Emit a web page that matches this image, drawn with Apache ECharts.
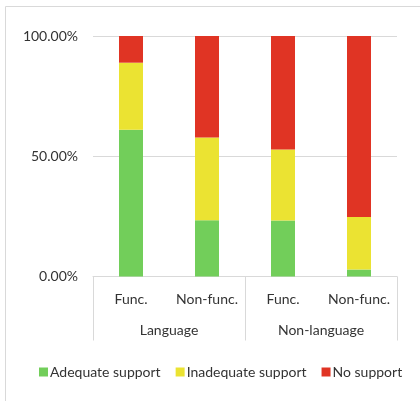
<!DOCTYPE html>
<html>
<head>
<meta charset="utf-8">
<script src="https://cdn.jsdelivr.net/npm/echarts@6/dist/echarts.min.js"></script>
<style>html,body{margin:0;padding:0;background:#fff;}#c{width:420px;height:401px;}</style>
</head>
<body>
<div id="c"></div>
<script>
const subCategories = ['Func.', 'Non-func.', 'Func.', 'Non-func.'];
const groupCategories = ['Language', 'Non-language'];
const seriesNames = ['Adequate support', 'Inadequate support', 'No support'];
const adequate = [0.61, 0.234, 0.233, 0.029];
const inadequate = [0.279, 0.344, 0.295, 0.218];
const noSupport = [0.111, 0.422, 0.472, 0.753];
const yTicks = [0, 0.5, 1];

const font = 'Lato, "Noto Sans", sans-serif';
const txt = '#333';
const gridC = '#d9d9d9';
const colors = ['#72CE5A', '#EBE332', '#E03424'];

const chart = echarts.init(document.getElementById('c'));
const mk = (name, data, i) => ({
  name, type: 'bar', stack: 'total', data, barWidth: 24,
  itemStyle: { color: colors[i] }, xAxisIndex: 0, yAxisIndex: 0
});
chart.setOption({
  animation: false,
  textStyle: { fontFamily: font },
  graphic: [{
    type: 'rect', silent: true,
    shape: { x: 5.5, y: 6.5, width: 600, height: 600 },
    style: { fill: 'none', stroke: gridC, lineWidth: 1 }
  }],
  grid: { left: 93, right: 23, top: 36, bottom: 124.5 },
  legend: {
    data: seriesNames, left: 34, top: 360, itemWidth: 9, itemHeight: 9, itemGap: 15,
    icon: 'rect',
    textStyle: { fontFamily: font, fontSize: 14, color: txt, padding: [0, 0, 0, -3] }
  },
  xAxis: [{
    type: 'category', data: subCategories, position: 'bottom',
    axisLine: { lineStyle: { color: gridC, width: 1 } },
    axisTick: { show: false },
    axisLabel: { interval: 0, margin: 16, fontSize: 14, color: txt, fontFamily: font }
  }, {
    type: 'category', data: groupCategories, position: 'bottom',
    axisLine: { show: false },
    axisTick: { show: true, length: 64, lineStyle: { color: gridC, width: 1 } },
    axisLabel: { interval: 0, margin: 47, fontSize: 14, color: txt, fontFamily: font }
  }],
  yAxis: {
    type: 'value', min: yTicks[0], max: yTicks[yTicks.length - 1], interval: yTicks[1] - yTicks[0],
    axisLine: { show: false }, axisTick: { show: false },
    splitLine: { lineStyle: { color: gridC, width: 1 } },
    axisLabel: { margin: 15, fontSize: 14, color: txt, fontFamily: font,
      formatter: v => (v * 100).toFixed(2) + '%' }
  },
  series: [mk(seriesNames[0], adequate, 0), mk(seriesNames[1], inadequate, 1), mk(seriesNames[2], noSupport, 2)]
});
</script>
</body>
</html>
